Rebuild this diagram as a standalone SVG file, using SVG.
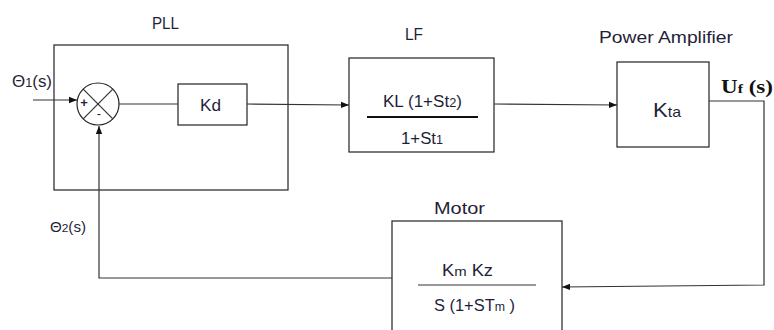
<svg xmlns="http://www.w3.org/2000/svg" width="774" height="330" viewBox="0 0 774 330">
<style>
.box{fill:none;stroke:#222;stroke-width:1.2}
.ln{fill:none;stroke:#333;stroke-width:1.2}
.t{font-family:"Liberation Sans",Arial,sans-serif;fill:#1f1f3a}
.u{font-family:"Liberation Serif","Times New Roman",serif;font-weight:bold;fill:#111}
</style>
<defs>
<marker id="ar" viewBox="0 0 10 10" refX="10" refY="5" markerWidth="8" markerHeight="8" markerUnits="userSpaceOnUse" orient="auto">
<path d="M0,1 L10,5 L0,9 z" fill="#111"/>
</marker>
</defs>
<rect width="774" height="330" fill="#fff"/>
<g id="pll">
<rect class="box" x="54" y="45" width="234" height="145"/>
<text class="t" x="152" y="29" font-size="16" textLength="27" lengthAdjust="spacingAndGlyphs">PLL</text>
</g>
<g id="sum">
<circle class="box" cx="98" cy="104" r="21"/>
<line class="ln" x1="83.2" y1="89.2" x2="112.8" y2="118.8"/>
<line class="ln" x1="112.8" y1="89.2" x2="83.2" y2="118.8"/>
<text class="t" x="84" y="107" font-size="13" text-anchor="middle" font-weight="bold">+</text>
<text class="t" x="99" y="118" font-size="13" text-anchor="middle">-</text>
</g>
<g id="kd">
<rect class="box" x="178" y="84" width="69" height="41"/>
<text class="t" x="200" y="111" font-size="17" textLength="21" lengthAdjust="spacingAndGlyphs">Kd</text>
</g>
<g id="lf">
<rect class="box" x="349" y="58" width="145" height="94"/>
<text class="t" x="405" y="40" font-size="16" textLength="18" lengthAdjust="spacingAndGlyphs">LF</text>
<text class="t" x="383" y="107" font-size="16" textLength="79" lengthAdjust="spacingAndGlyphs">KL (1+St<tspan font-size="12">2</tspan>)</text>
<line x1="367" y1="117" x2="478" y2="117" stroke="#111" stroke-width="2"/>
<text class="t" x="401" y="144" font-size="16" textLength="42" lengthAdjust="spacingAndGlyphs">1+St<tspan font-size="12">1</tspan></text>
</g>
<g id="pa">
<rect class="box" x="617" y="62" width="92" height="85"/>
<text class="t" x="599" y="43" font-size="17" textLength="134" lengthAdjust="spacingAndGlyphs">Power Amplifier</text>
<text class="t" x="653" y="117" font-size="21" textLength="28" lengthAdjust="spacingAndGlyphs">K<tspan font-size="15">ta</tspan></text>
</g>
<g id="motor">
<rect class="box" x="392" y="221" width="170" height="115"/>
<text class="t" x="434" y="214" font-size="17" textLength="51" lengthAdjust="spacingAndGlyphs">Motor</text>
<text class="t" x="442" y="276" font-size="16" textLength="51" lengthAdjust="spacingAndGlyphs">K<tspan font-size="13">m</tspan> Kz</text>
<line x1="418" y1="285" x2="536" y2="285" stroke="#333" stroke-width="1.2"/>
<text class="t" x="434" y="311" font-size="16" textLength="81" lengthAdjust="spacingAndGlyphs">S (1+ST<tspan font-size="12">m</tspan> )</text>
</g>
<g id="labels">
<text class="t" x="12" y="87" font-size="16" textLength="40" lengthAdjust="spacingAndGlyphs">Θ<tspan font-size="12">1</tspan>(s)</text>
<text class="t" x="50" y="232" font-size="14" textLength="36" lengthAdjust="spacingAndGlyphs">Θ<tspan font-size="11">2</tspan>(s)</text>
<text class="u" x="721" y="93" font-size="19" textLength="52" lengthAdjust="spacingAndGlyphs">U<tspan font-size="13">f</tspan> (s)</text>
</g>
<g id="connectors">
<line class="ln" x1="33" y1="100" x2="77" y2="100" marker-end="url(#ar)"/>
<line class="ln" x1="119" y1="104" x2="178" y2="104"/>
<line class="ln" x1="247" y1="104" x2="349" y2="105" marker-end="url(#ar)"/>
<line class="ln" x1="494" y1="104" x2="617" y2="105" marker-end="url(#ar)"/>
<polyline class="ln" points="709,101 764,101 764,285 562,287" marker-end="url(#ar)"/>
<polyline class="ln" points="392,278 99,278 99,126" marker-end="url(#ar)"/>
</g>
</svg>
